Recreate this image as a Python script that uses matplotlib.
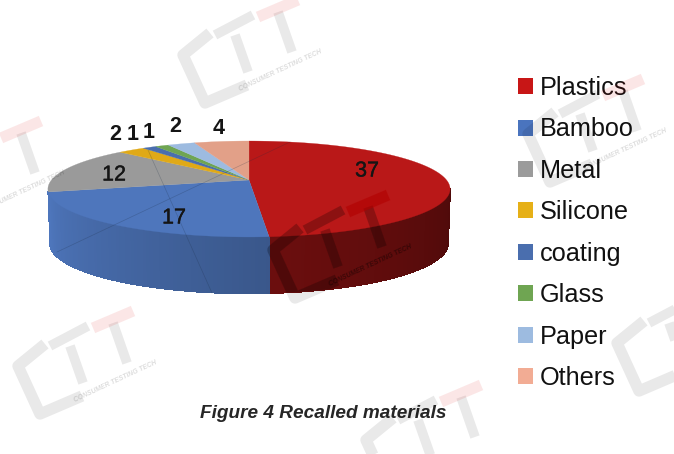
import numpy as np
import matplotlib
matplotlib.use("Agg")
import matplotlib.pyplot as plt
from matplotlib.patches import Patch, Polygon
from matplotlib.collections import PolyCollection
import matplotlib.patheffects as pe

plt.rcParams['font.family'] = ['Liberation Sans', 'DejaVu Sans']

categories = ['Plastics', 'Bamboo', 'Metal', 'Silicone', 'coating', 'Glass', 'Paper', 'Others']
values = [37, 17, 12, 2, 1, 1, 2, 4]
pie_colors = ['#B91818', '#4E76BC', '#9A9A9A', '#E0A917', '#4A6EAE', '#6FA552', '#9DBBE0', '#E2A088']
legend_colors = ['#C81616', '#4A74BE', '#9B9B9B', '#E6B017', '#4A6EAE', '#6FA552', '#9DBBE0', '#F2AC94']
side_shade = [(0.42, 0.58), (0.74, 1.0), (0.8, 0.8), (0.8, 0.8), (0.8, 0.8), (0.8, 0.8), (0.8, 0.8), (0.8, 0.8)]
label_pos = [(367, 171), (174, 218), (114, 175), (115, 135), (133, 134), (149, 133), (175, 127), (219, 128)]

W, H = 674, 454
fig = plt.figure(figsize=(W / 100, H / 100), dpi=100)
ax = fig.add_axes([0, 0, 1, 1])
ax.set_xlim(0, W)
ax.set_ylim(H, 0)
ax.axis('off')


def project(theta, cx=249.0, cy=180.0, a=197.5, b=46.3, k=0.1875):
    """Angle clockwise from 12 o'clock to perspective disc position."""
    x, y = np.sin(theta), np.cos(theta)
    d = 1 + k * y
    return cx + a * x / d, cy - b * y / d


BOTTOM = dict(cy=234.0, a=195.5, b=48.2)
edges = np.cumsum([0] + values) / sum(values) * 2 * np.pi
front_start, front_end = np.deg2rad(100.8), np.deg2rad(259.2)

# side wall (only the front-facing part can be seen)
for i, c in enumerate(pie_colors):
    lo, hi = max(edges[i], front_start), min(edges[i + 1], front_end)
    if hi <= lo or (hi - lo) < np.deg2rad(6):
        continue
    th = np.linspace(lo, hi, 90)
    X1, Y1 = project(th)
    X2, Y2 = project(th, **BOTTOM)
    rgb = np.array(matplotlib.colors.to_rgb(c))
    quads, cols = [], []
    for j in range(len(th) - 1):
        quads.append([(X1[j], Y1[j]), (X1[j + 1], Y1[j + 1]), (X2[j + 1], Y2[j + 1]), (X2[j], Y2[j])])
        f = j / (len(th) - 2)
        s = side_shade[i][0] + (side_shade[i][1] - side_shade[i][0]) * f
        cols.append(tuple(rgb * s))
    ax.add_collection(PolyCollection(quads, facecolors=cols, edgecolors=cols, linewidths=0.6,
                                     antialiased=False, zorder=2))

# top face
for i, c in enumerate(pie_colors):
    th = np.linspace(edges[i], edges[i + 1], max(8, int(values[i] * 10)))
    X, Y = project(th)
    ax.fill(np.r_[249.0, X], np.r_[180.0, Y], color=c, lw=0.2, zorder=3)

# data labels
for i, (v, p) in enumerate(zip(values, label_pos)):
    inside = i < 3
    t = ax.text(p[0], p[1], str(v), ha='center', va='center', color='#151515',
                fontsize=15.5, fontweight='normal' if inside else 'bold', zorder=7)
    if inside:
        t.set_path_effects([pe.withStroke(linewidth=0.25, foreground='#151515')])

# legend
handles = [Patch(facecolor=c, edgecolor='none') for c in legend_colors]
ax.legend(handles, categories, loc='upper left', bbox_to_anchor=(518 / W, 1 - 76 / H), frameon=False,
          fontsize=18.2, labelspacing=0.69, handlelength=0.6, handleheight=0.6,
          handletextpad=0.28, borderpad=0, borderaxespad=0, labelcolor='#111111')

# caption
ax.text(323, 414, 'Figure 4 Recalled materials', ha='center', va='center', fontsize=13.7,
        fontweight='bold', fontstyle='italic', color='#262626', zorder=4)

# silhouette of the pie, for the stronger watermark over it
th_top = np.linspace(front_end - 2 * np.pi, front_start, 120)
th_bot = np.linspace(front_start, front_end, 120)
xa, ya = project(th_top)
xb, yb = project(th_bot, **BOTTOM)
silhouette = Polygon(np.c_[np.r_[xa, xb], np.r_[ya, yb]], closed=True, transform=ax.transData,
                     facecolor='none', edgecolor='none')
ax.add_patch(silhouette)


def draw_logo(ax0, ay0, grey_alpha, red_alpha, red='#E01010', with_text=True, clip=None):
    def pts(seq):
        return [ax0 + s[0] for s in seq], [ay0 + s[1] for s in seq]
    arts = []
    kw = dict(color='k', alpha=grey_alpha, solid_capstyle='butt', zorder=6)
    x, y = pts([(-112, -19), (-139, 3), (-117, 51), (-75, 33)])
    arts += ax.plot(x, y, lw=8.2, solid_joinstyle='round', **kw)
    x, y = pts([(-107, -17), (-69, -37)])
    arts += ax.plot(x, y, lw=7.0, **kw)
    x, y = pts([(-87, -17), (-74, 20)])
    arts += ax.plot(x, y, lw=7.0, **kw)
    x, y = pts([(-44, -40), (-30, 0)])
    arts += ax.plot(x, y, lw=7.0, **kw)
    x, y = pts([(-64, -35), (-24, -52)])
    arts += ax.plot(x, y, lw=8, color=red, alpha=red_alpha, solid_capstyle='butt', zorder=6)
    if with_text:
        arts.append(ax.text(ax0, ay0 - 1, 'CONSUMER TESTING TECH', ha='right', va='center', rotation=25,
                            rotation_mode='anchor', fontsize=4.9, fontweight='bold', fontstyle='italic',
                            color='k', alpha=min(grey_alpha * 1.6, 1), zorder=6, clip_on=True))
    if clip is not None:
        for a in arts:
            a.set_clip_path(clip)


logo_anchors = [(322, 52), (667, 131), (157, 363), (412, 247), (65, 173), (756, 340), (505, 437)]
logo_text = [True, True, True, True, True, False, False]
for (ax0, ay0), wt in zip(logo_anchors, logo_text):
    draw_logo(ax0, ay0, 0.085, 0.1, with_text=wt)
draw_logo(412, 247, 0.17, 0.6, red='#B00000', clip=silhouette)

# faint scan lines over the pie
ax.plot([57, 290], [252, 142], color='#1a2a40', lw=0.5, alpha=0.25, zorder=5)
ax.plot([148, 212], [150, 293], color='#1a2a40', lw=0.5, alpha=0.25, zorder=5)

fig.savefig('out.png', dpi=100)
